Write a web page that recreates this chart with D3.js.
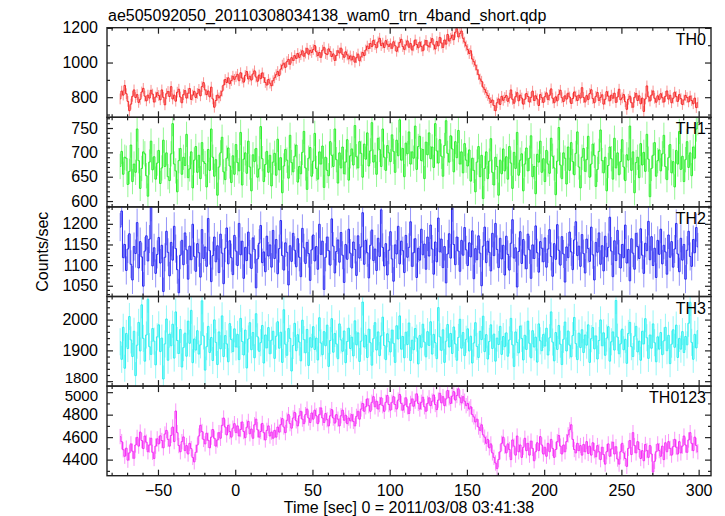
<!DOCTYPE html>
<html><head><meta charset="utf-8">
<script src="https://cdn.jsdelivr.net/npm/d3@7"></script>
<style>
body{margin:0;background:#fff}
svg{display:block}
text{font-family:"Liberation Sans",Arial,Helvetica,sans-serif;fill:#000}
</style>
</head><body>
<svg id="chart" width="725" height="516"></svg>
<script>
// ---------------- data (1-s bins starting at t = -75 s) ----------------
const plotTitle = "ae505092050_20110308034138_wam0_trn_4band_short.qdp";
const xAxisTitle = "Time [sec] 0 = 2011/03/08 03:41:38";
const yAxisTitle = "Counts/sec";
const panelNames = ["TH0", "TH1", "TH2", "TH3", "TH0123"];
const timeStart = -75;
const binWidth = 1;

const th0 = [
790,835,812,868,820,776,722,760,805,842,798,815,770,788,830,851,806,779,812,795,840,818,772,801,826,
810,785,842,799,756,820,833,804,861,790,812,777,829,846,801,768,815,838,795,823,850,787,812,834,798,
822,845,808,861,884,842,815,836,802,858,790,742,781,812,796,808,835,870,902,885,912,878,896,921,903,
918,932,895,941,910,887,926,948,905,921,899,934,952,916,892,928,907,940,913,885,870,902,881,866,895,
912,930,948,925,962,985,996,972,1005,1018,990,1028,1012,1040,1024,1052,1030,1045,1068,1036,1055,1082,1048,1070,1058,
1075,1098,1062,1040,1058,1030,1071,1088,1052,1046,1079,1064,1035,1050,1012,1041,1068,1055,1083,1047,1030,1062,1044,1021,1038,
1015,1036,1002,1028,1049,1010,1033,1058,1040,1072,1095,1081,1110,1092,1128,1104,1085,1119,1140,1098,1112,1087,1126,1105,1093,
1108,1082,1120,1097,1065,1089,1115,1134,1092,1076,1101,1125,1088,1110,1072,1096,1130,1104,1085,1118,1093,1068,1102,1127,1099,
1090,1115,1138,1102,1078,1121,1096,1145,1112,1087,1130,1106,1162,1124,1140,1158,1132,1175,1195,1148,1168,1182,1140,1118,1096,
1075,1052,1068,1020,1005,985,958,930,905,892,858,845,826,810,792,770,784,752,722,768,790,758,805,782,798,
810,776,795,842,788,765,803,826,779,812,795,760,788,821,804,772,799,835,781,808,790,752,815,797,770,
803,825,786,811,848,794,768,802,779,816,840,797,775,808,789,823,801,764,792,830,806,781,812,795,855,
798,772,809,786,821,843,792,768,805,827,781,799,814,760,788,832,806,779,812,794,823,770,801,846,785,
796,815,774,730,788,806,768,742,799,822,781,808,762,795,718,790,865,802,778,812,836,794,771,808,786,
820,797,772,805,836,789,811,768,794,829,803,776,815,792,758,784,810,798,773,806,781,762,795,740,768
];
const th1 = [
671,702,655,690,688,634,661,715,640,676,659,748,683,626,667,701,697,652,610,680,723,664,691,645,678,
704,636,668,725,671,699,650,642,697,759,676,662,619,683,708,655,690,673,737,648,666,701,627,684,712,
659,694,646,720,681,677,629,706,663,748,690,651,685,612,670,699,731,660,644,688,709,672,638,693,655,
716,679,662,741,633,686,699,657,723,670,621,695,681,708,649,666,753,687,640,675,702,659,694,631,680,
698,653,727,664,689,617,672,706,684,647,735,679,660,692,715,639,671,656,700,743,668,624,688,710,651,
682,739,667,645,701,676,713,628,690,663,652,722,694,671,748,685,637,699,668,711,656,680,726,643,693,
707,674,755,691,668,722,698,649,717,686,740,672,703,761,680,694,655,729,706,671,748,690,663,714,699,
681,736,702,659,725,693,767,684,708,650,719,697,742,676,701,688,754,665,712,733,683,706,646,721,695,
740,687,711,669,759,703,678,726,692,651,714,765,698,680,734,707,660,722,689,745,676,701,658,718,684,
672,705,641,688,663,619,680,712,650,694,605,667,701,646,682,728,659,633,690,671,612,684,656,707,662,
691,645,712,678,626,700,667,741,653,684,697,621,676,709,662,688,734,650,671,615,696,680,723,659,687,
640,704,676,657,729,692,668,613,682,751,674,646,699,688,635,711,663,720,681,654,698,742,670,627,690,
708,661,685,733,649,676,717,694,630,665,702,746,683,658,690,621,673,711,687,645,729,668,699,654,681,
726,670,642,695,684,754,663,701,617,679,690,648,718,674,700,661,737,686,609,667,694,720,651,683,705,
662,697,735,671,644,689,716,658,681,629,704,676,743,665,692,640,685,722,669,699,652,711,688,748,761
];
const th2 = [
1192,1231,1118,1150,1087,1139,1176,1102,1064,1145,1128,1203,1093,1157,1120,1049,1134,1171,1110,1163,1240,1098,1142,1080,1126,
1167,1105,1148,1036,1119,1182,1131,1074,1155,1112,1194,1140,1089,1033,1124,1160,1101,1178,1137,1066,1146,1113,1199,1121,1085,
1152,1130,1071,1186,1116,1144,1097,1213,1135,1060,1123,1168,1108,1147,1082,1175,1129,1055,1141,1190,1103,1159,1118,1077,1172,
1134,1099,1201,1125,1158,1068,1143,1111,1180,1127,1092,1166,1138,1045,1115,1153,1196,1106,1132,1084,1170,1122,1149,1095,1184,
1116,1162,1079,1140,1208,1123,1088,1154,1131,1052,1147,1109,1177,1136,1096,1164,1119,1072,1189,1142,1104,1155,1128,1063,1137,
1173,1110,1145,1090,1199,1126,1158,1041,1119,1168,1135,1100,1212,1146,1081,1133,1161,1107,1179,1124,1058,1150,1114,1187,1129,
1093,1156,1138,1075,1171,1117,1144,1227,1102,1160,1130,1069,1148,1185,1111,1139,1087,1165,1121,1234,1143,1098,1152,1076,1136,
1181,1115,1061,1149,1127,1194,1103,1158,1135,1082,1172,1119,1143,1205,1097,1130,1164,1070,1141,1112,1187,1125,1151,1090,1168,
1122,1197,1139,1078,1156,1108,1214,1132,1163,1094,1145,1057,1127,1176,1117,1239,1150,1101,1168,1134,1085,1160,1124,1191,1137,
1099,1154,1120,1183,1067,1140,1113,1171,1129,1050,1146,1192,1106,1158,1131,1086,1177,1123,1201,1138,1094,1165,1115,1148,1076,
1170,1126,1088,1153,1210,1117,1142,1047,1133,1181,1104,1162,1124,1091,1175,1137,1068,1149,1116,1195,1130,1083,1157,1141,1108,
1166,1095,1139,1186,1121,1073,1152,1114,1198,1136,1100,1169,1127,1059,1144,1118,1180,1132,1089,1161,1205,1123,1146,1097,1174,
1128,1081,1163,1140,1109,1192,1125,1064,1155,1131,1178,1102,1147,1086,1170,1120,1143,1216,1134,1072,1159,1111,1184,1127,1093,
1150,1118,1197,1105,1138,1062,1164,1129,1090,1177,1145,1116,1188,1124,1080,1153,1135,1206,1113,1169,1099,1141,1070,1160,1126,
1187,1103,1148,1132,1078,1173,1119,1157,1095,1139,1201,1127,1084,1165,1112,1150,1066,1136,1182,1121,1097,1162,1130,1191,1144
];
const th3 = [
1928,1871,1975,1842,1955,1906,2010,1934,1880,1962,1818,1917,1991,1898,2048,1939,1865,1950,2066,1912,1887,1971,1930,1853,1944,
1983,1896,1940,1807,1921,2002,1868,1953,1915,1985,1875,2025,1932,1890,1968,1846,1909,1956,1881,1995,1923,2030,1860,1937,1901,
1964,1888,1918,2061,1947,1836,1912,1978,1893,1942,1867,1999,1926,1854,1960,1905,2012,1880,1948,1921,1863,1987,1935,1896,1970,
1911,1952,1870,2004,1929,1885,1966,1843,1937,1990,1902,1958,1876,2019,1944,1897,1925,1981,1859,1950,1908,1974,1889,1933,1962,
1874,1946,1993,1907,1959,1861,2032,1920,1884,1971,1939,1833,1916,1988,1899,1951,1927,1866,1998,1935,1892,1968,1851,1941,1910,
1977,1903,1940,1869,2006,1924,1886,1961,1915,1982,1848,1932,2003,1894,1955,1921,1873,1986,1934,1897,1963,1860,1929,1972,1906,
1943,1882,1996,1918,1957,1864,1930,2057,1911,1949,1877,1969,1925,1852,1938,1990,1901,1960,1883,1947,2008,1916,1870,1954,1928,
1895,1966,1923,1861,1980,1937,2012,1904,1945,1876,1959,1919,1989,1867,1933,1902,1971,1940,1856,1948,1910,1985,1927,1879,1961,
1916,1993,1888,1952,1925,1873,2039,1944,1900,1967,1861,1930,1984,1911,1955,1890,1976,1921,1868,1942,2001,1907,1958,1883,1936,
1970,1898,1946,1859,1924,1990,1913,1877,1962,1935,2011,1896,1951,1872,1929,1983,1906,1953,1865,1940,1919,1978,1887,1945,1912,
1957,1881,1934,2004,1918,1848,1960,1926,1892,1979,1939,1869,1949,1903,1995,1923,1876,1964,1911,1943,1862,1986,1931,1899,1952,
1914,1972,1885,1941,2025,1927,1866,1958,1903,1981,1920,1854,1936,1992,1898,1963,1917,1879,1948,2007,1922,1870,1956,1909,1967,
1893,1950,1917,1983,1861,1938,1974,1905,1947,1872,1932,1999,1915,1957,1884,1940,1977,1865,1928,1960,1901,2062,1943,1889,1921,
1969,1902,1936,1858,1955,1991,1912,1880,1946,1978,1895,1930,1868,1962,1921,2003,1941,1874,1950,1907,1986,1925,1863,1944,1904,
1958,1886,1931,1975,1899,1949,1857,1920,1967,1910,1982,1877,1939,1904,1961,1893,1945,1918,1988,2056,1926,1871,1952,1908,1964
];
const th0123 = [
4605,4560,4488,4430,4502,4395,4460,4540,4475,4412,4530,4598,4520,4645,4570,4498,4610,4555,4470,4530,4590,4465,4410,4520,4585,
4540,4612,4570,4505,4628,4660,4580,4520,4615,4690,4560,4832,4640,4525,4470,4560,4602,4480,4525,4450,4545,4498,4420,4380,4465,
4530,4610,4705,4650,4580,4540,4635,4572,4505,4600,4668,4590,4520,4575,4640,4590,4705,4770,4690,4620,4705,4650,4600,4680,4720,
4640,4700,4610,4668,4735,4650,4595,4688,4740,4630,4672,4590,4710,4760,4665,4600,4650,4722,4640,4575,4660,4700,4610,4645,4590,
4660,4600,4690,4645,4710,4765,4690,4640,4750,4800,4720,4680,4770,4820,4745,4700,4790,4830,4760,4720,4800,4850,4770,4730,4815,
4760,4840,4790,4720,4800,4860,4770,4730,4810,4755,4700,4790,4845,4770,4725,4800,4760,4700,4790,4840,4750,4795,4720,4770,4745,
4800,4740,4700,4785,4830,4760,4850,4900,4830,4870,4940,4880,4830,4910,4960,4870,4920,4850,4890,4950,4880,4830,4910,4970,4890,
4840,4910,4960,4890,4850,4930,4980,4900,4840,4885,4950,4870,4810,4900,4940,4875,4920,4985,4900,4850,4910,4955,4870,4830,4900,
4950,4880,4920,4975,4890,4845,4930,4990,4905,4960,4880,4940,5015,4950,4900,4965,5005,4930,4970,5030,4950,4905,4960,4920,4880,
4900,4850,4870,4800,4780,4735,4760,4690,4660,4710,4620,4600,4545,4580,4505,4540,4460,4420,4370,4320,4400,4470,4545,4600,4520,
4460,4540,4490,4400,4575,4520,4440,4610,4470,4530,4420,4510,4590,4480,4545,4440,4565,4500,4390,4470,4550,4480,4605,4530,4450,
4510,4430,4545,4470,4580,4500,4420,4490,4560,4615,4520,4450,4530,4470,4560,4620,4665,4710,4580,4490,4460,4545,4480,4525,4440,
4535,4470,4560,4455,4520,4440,4550,4480,4425,4525,4470,4400,4510,4445,4360,4470,4540,4430,4495,4555,4450,4515,4405,4360,4470,
4545,4460,4410,4340,4500,4570,4445,4640,4525,4460,4560,4490,4410,4480,4390,4535,4480,4420,4525,4450,4290,4385,4470,4540,4480,
4430,4520,4400,4550,4470,4560,4500,4440,4515,4580,4510,4450,4560,4460,4520,4610,4530,4465,4575,4640,4545,4480,4600,4525,4470
];
// half-length of the 1-sigma error bar of each panel (counts/sec)
const errorHalf = [31, 26, 34, 44, 68];

// axes
const xDomain = [-83, 308];
const xMajorTicks = [-50, 0, 50, 100, 150, 200, 250, 300];
const xMinorStep = 10;
const yDomains = [[684, 1201], [588, 772], [1024, 1241], [1784, 2075], [4257, 5054]];
const yMajorTicks = [[800, 1000, 1200], [600, 650, 700, 750], [1050, 1100, 1150, 1200], [1800, 1900, 2000], [4400, 4600, 4800, 5000]];
const yMinorSteps = [100, 10, 10, 20, 100];

// ---------------- styling / layout ----------------
const series = [th0, th1, th2, th3, th0123];
const colors = ["#f52a2a", "#2cef2c", "#2a2af2", "#2ef0f0", "#f52ef5"];
const plotL = 107, plotR = 711, plotT = 27.7, plotB = 475.7;
const panelH = (plotB - plotT) / 5;
const svg = d3.select("#chart");

const x = d3.scaleLinear().domain(xDomain).range([plotL, plotR]);
const xMinor = d3.range(-80, 309, xMinorStep).filter(v => !xMajorTicks.includes(v));

const defs = svg.append("defs");

series.forEach((vals, p) => {
  const y0 = plotT + p * panelH, y1 = y0 + panelH;
  const y = d3.scaleLinear().domain(yDomains[p]).range([y1, y0]);
  const col = colors[p];
  const g = svg.append("g");

  defs.append("clipPath").attr("id", "clip" + p)
    .append("rect").attr("x", plotL).attr("y", y0).attr("width", plotR - plotL).attr("height", panelH);

  const pts = vals.map((v, i) => ({t: timeStart + (i + 0.5) * binWidth, v}));
  const dg = g.append("g").attr("clip-path", `url(#clip${p})`);
  const e = errorHalf[p];
  dg.append("g").selectAll("line").data(pts).join("line")
    .attr("x1", d => x(d.t)).attr("x2", d => x(d.t))
    .attr("y1", d => y(d.v - e)).attr("y2", d => y(d.v + e))
    .attr("stroke", col).attr("stroke-opacity", 0.5).attr("stroke-width", 1);
  dg.append("path").datum(pts)
    .attr("d", d3.line().x(d => x(d.t)).y(d => y(d.v)).curve(d3.curveStep))
    .attr("fill", "none").attr("stroke", col).attr("stroke-width", 1);

  // y ticks
  const [d0, d1] = yDomains[p];
  const st = yMinorSteps[p];
  const yMinor = d3.range(Math.ceil(d0 / st) * st, d1 + 0.001, st).filter(v => !yMajorTicks[p].includes(v));
  const axL = g.append("g").attr("transform", `translate(${plotL},0)`)
    .call(d3.axisLeft(y).tickValues(yMajorTicks[p]).tickSize(-6).tickPadding(9).tickFormat(d3.format("d")));
  g.append("g").attr("transform", `translate(${plotL},0)`)
    .call(d3.axisLeft(y).tickValues(yMinor).tickSize(-3).tickFormat(""));
  g.append("g").attr("transform", `translate(${plotR},0)`)
    .call(d3.axisRight(y).tickValues(yMajorTicks[p]).tickSize(-6).tickFormat(""));
  g.append("g").attr("transform", `translate(${plotR},0)`)
    .call(d3.axisRight(y).tickValues(yMinor).tickSize(-3).tickFormat(""));
  // x ticks on top and bottom of panel
  g.append("g").attr("transform", `translate(0,${y1})`)
    .call(d3.axisBottom(x).tickValues(xMajorTicks).tickSize(-6).tickPadding(9)
      .tickFormat(p === 4 ? (d => d < 0 ? "\u2212" + Math.abs(d) : d) : ""));
  g.append("g").attr("transform", `translate(0,${y1})`)
    .call(d3.axisBottom(x).tickValues(xMinor).tickSize(-3).tickFormat(""));
  g.append("g").attr("transform", `translate(0,${y0})`)
    .call(d3.axisTop(x).tickValues(xMajorTicks).tickSize(-6).tickFormat(""));
  g.append("g").attr("transform", `translate(0,${y0})`)
    .call(d3.axisTop(x).tickValues(xMinor).tickSize(-3).tickFormat(""));

  g.selectAll(".domain").remove();
  g.selectAll(".tick line").attr("stroke", "#222").attr("stroke-width", 1.2);
  g.selectAll(".tick text").attr("font-size", 16).attr("fill", "#000")
    .attr("font-family", '"Liberation Sans", Arial, sans-serif');
  // the two labels meeting at the TH3 / TH0123 join: slightly smaller and nudged apart
  axL.selectAll(".tick text").each(function(d) {
    const s = d3.select(this);
    if (p === 3 && d === yMajorTicks[3][0]) s.attr("dy", "0.12em").attr("font-size", 15);
    if (p === 4 && d === yMajorTicks[4][yMajorTicks[4].length - 1]) s.attr("dy", "0.55em").attr("font-size", 15);
  });

  // frame
  g.append("rect").attr("x", plotL).attr("y", y0).attr("width", plotR - plotL).attr("height", panelH)
    .attr("fill", "none").attr("stroke", "#222").attr("stroke-width", 1.4);

  g.append("text").attr("x", plotR - 5).attr("y", y0 + 17).attr("text-anchor", "end")
    .attr("font-size", 16).text(panelNames[p]);
});

svg.append("text").attr("x", 108).attr("y", 21).attr("font-size", 16).text(plotTitle);
svg.append("text").attr("x", (plotL + plotR) / 2).attr("y", 513).attr("text-anchor", "middle")
  .attr("font-size", 16).text(xAxisTitle);
svg.append("text").attr("transform", `translate(48,${(plotT + plotB) / 2}) rotate(-90)`)
  .attr("text-anchor", "middle").attr("font-size", 16).text(yAxisTitle);
</script>
</body></html>
